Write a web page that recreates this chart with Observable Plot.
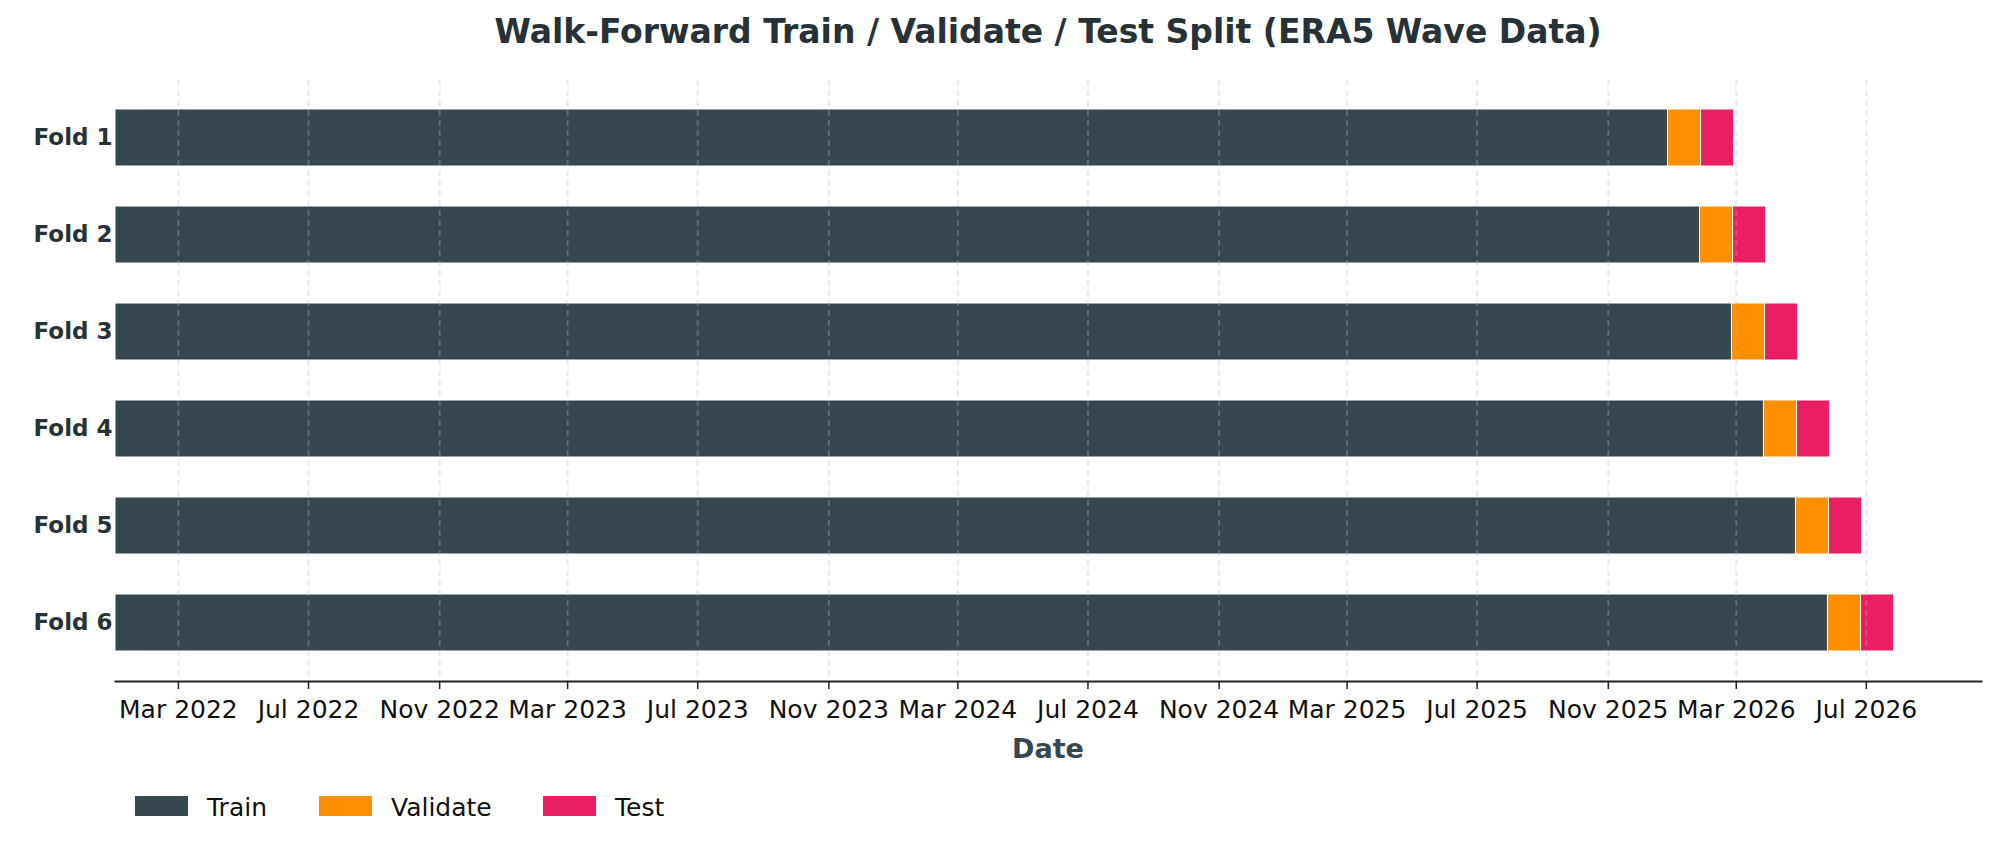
<!DOCTYPE html>
<html>
<head>
<meta charset="utf-8">
<script src="https://cdn.jsdelivr.net/npm/d3@7"></script>
<script src="https://cdn.jsdelivr.net/npm/@observablehq/plot@0.6"></script>
<style>
  html, body { margin: 0; padding: 0; background: #fff; }
  body { font-family: "DejaVu Sans", sans-serif; }
  #wrap { position: relative; width: 2000px; height: 848px; overflow: hidden; }
  #wrap svg { position: absolute; left: 0; top: 0; }
  .title { position: absolute; left: 115px; width: 1866px; top: 12px; text-align: center;
           font: bold 33px "DejaVu Sans"; color: #263238; line-height: 40px; white-space: nowrap; }
  .xlabel { position: absolute; left: 115px; width: 1866px; top: 729px; text-align: center;
            font: bold 27px "DejaVu Sans"; color: #37474F; line-height: 40px; }
  .legend-sw { position: absolute; top: 796px; width: 53px; height: 20px; }
  .legend-tx { position: absolute; top: 788px; font: 25px "DejaVu Sans"; color: #111; line-height: 40px; }
</style>
</head>
<body>
<div id="wrap"></div>
<script>
// ---- data ----
const folds = ["Fold 1", "Fold 2", "Fold 3", "Fold 4", "Fold 5", "Fold 6"];
const trainStart = ["2022-01-01", "2022-01-01", "2022-01-01", "2022-01-01", "2022-01-01", "2022-01-01"];
const trainEnd = ["2025-12-27", "2026-01-26", "2026-02-25", "2026-03-27", "2026-04-26", "2026-05-26"];
const validateEnd = ["2026-01-27", "2026-02-26", "2026-03-28", "2026-04-27", "2026-05-27", "2026-06-26"];
const testEnd = ["2026-02-27", "2026-03-29", "2026-04-28", "2026-05-28", "2026-06-27", "2026-07-27"];
const seriesNames = ["Train", "Validate", "Test"];
const seriesColors = ["#37474F", "#FF8F00", "#E91E63"];
const tickDates = ["2022-03-01", "2022-07-01", "2022-11-01", "2023-03-01", "2023-07-01", "2023-11-01",
                   "2024-03-01", "2024-07-01", "2024-11-01", "2025-03-01", "2025-07-01", "2025-11-01",
                   "2026-03-01", "2026-07-01"];
const xDomain = ["2022-01-01", "2026-10-17"];

const P = d3.utcParse("%Y-%m-%d");
const rows = [];
folds.forEach((f, i) => {
  rows.push({fold: f, series: seriesNames[0], start: P(trainStart[i]), end: P(trainEnd[i])});
  rows.push({fold: f, series: seriesNames[1], start: P(trainEnd[i]), end: P(validateEnd[i])});
  rows.push({fold: f, series: seriesNames[2], start: P(validateEnd[i]), end: P(testEnd[i])});
});
const ticks = tickDates.map(P);

const chart = Plot.plot({
  width: 2000,
  height: 848,
  marginTop: 80,
  marginBottom: 167,
  marginLeft: 115,
  marginRight: 19,
  style: {fontFamily: "DejaVu Sans", background: "transparent", overflow: "visible"},
  x: {type: "utc", domain: xDomain.map(P)},
  y: {domain: folds, paddingInner: 0.41, paddingOuter: 0.28},
  color: {domain: seriesNames, range: seriesColors},
  marks: [
    Plot.barX(rows, {y: "fold", x1: "start", x2: "end", fill: "series", stroke: "white", strokeWidth: 1}),
    Plot.gridX(ticks, {stroke: "#B0BEC5", strokeOpacity: 0.3, strokeWidth: 2, strokeDasharray: "6,4"}),
    Plot.axisX(ticks, {tickSize: 8, tickPadding: 11, fontSize: 25, fill: "#111", stroke: "#222",
                       strokeWidth: 1.5, tickFormat: d3.utcFormat("%b %Y"), label: null}),
    Plot.frame({anchor: "bottom", stroke: "#222", strokeWidth: 2}),
    Plot.axisY({tickSize: 0, tickPadding: 3, fontSize: 23, fontWeight: "bold", fill: "#263238", label: null})
  ]
});

const wrap = document.getElementById("wrap");
wrap.appendChild(chart);

const title = document.createElement("div");
title.className = "title";
title.textContent = "Walk-Forward Train / Validate / Test Split (ERA5 Wave Data)";
wrap.appendChild(title);

const xl = document.createElement("div");
xl.className = "xlabel";
xl.textContent = "Date";
wrap.appendChild(xl);

const legendSwX = [135, 319, 543];
seriesNames.forEach((s, i) => {
  const sw = document.createElement("div");
  sw.className = "legend-sw";
  sw.style.left = legendSwX[i] + "px";
  sw.style.background = seriesColors[i];
  wrap.appendChild(sw);
  const tx = document.createElement("div");
  tx.className = "legend-tx";
  tx.style.left = (legendSwX[i] + 72) + "px";
  tx.textContent = s;
  wrap.appendChild(tx);
});
</script>
</body>
</html>
